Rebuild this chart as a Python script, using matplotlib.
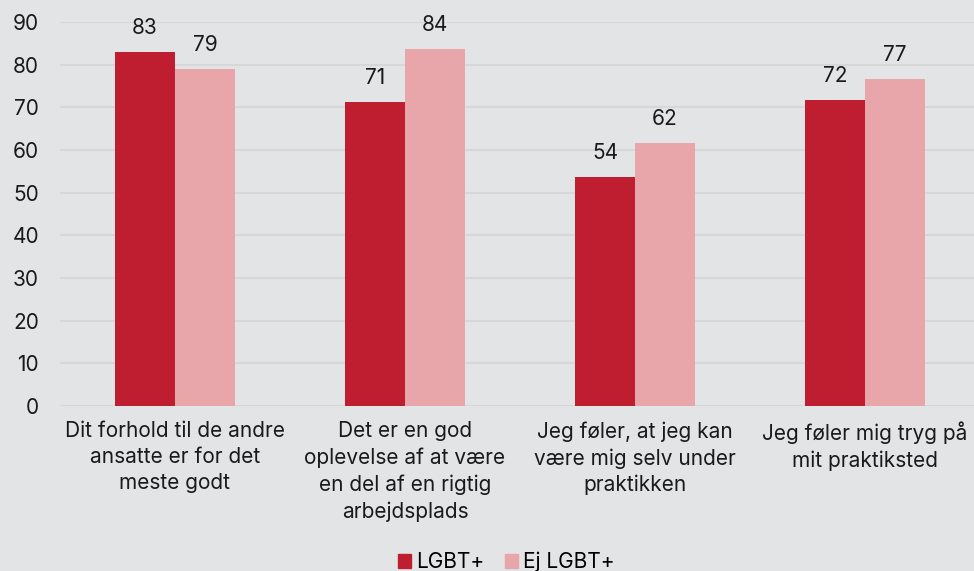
import matplotlib
matplotlib.use("Agg")
import matplotlib.pyplot as plt
import numpy as np
from matplotlib.patches import Patch

plt.rcParams["font.family"] = ["Inter", "DejaVu Sans"]

categories = [
    "Dit forhold til de andre\nansatte er for det\nmeste godt",
    "Det er en god\noplevelse af at være\nen del af en rigtig\narbejdsplads",
    "Jeg føler, at jeg kan\nvære mig selv under\npraktikken",
    "Jeg føler mig tryg på\nmit praktiksted",
]
lgbt = [82.9, 71.2, 53.6, 71.8]
ej_lgbt = [79.0, 83.6, 61.7, 76.6]
series_names = ["LGBT+", "Ej LGBT+"]
colors = ["#be1e2f", "#e8a6ab"]
bg = "#e3e4e6"
fs = 15

fig = plt.figure(figsize=(9.74, 5.71), dpi=100, facecolor=bg)
ax = fig.add_axes([60 / 974, 1 - 406 / 571, 914 / 974, 384 / 571])
ax.set_facecolor(bg)

x = np.arange(len(categories))
w = 0.26
b1 = ax.bar(x - w / 2, lgbt, w, color=colors[0], zorder=3)
b2 = ax.bar(x + w / 2, ej_lgbt, w, color=colors[1], zorder=3)

for bars, vals in ((b1, lgbt), (b2, ej_lgbt)):
    for r, v in zip(bars, vals):
        ax.annotate(f"{v:.0f}", (r.get_x() + r.get_width() / 2, v),
                    xytext=(0, 10), textcoords="offset points",
                    ha="center", va="bottom", fontsize=fs, color="#1a1a1a")

ax.set_ylim(0, 90)
ax.set_xlim(-0.5, 3.474)
ax.set_yticks(range(0, 91, 10))
ax.yaxis.grid(True, color="#d6d7d9", linewidth=1.5, zorder=0)
ax.set_axisbelow(True)
for s in ax.spines.values():
    s.set_visible(False)
ax.tick_params(axis="both", length=0, labelsize=fs, colors="#1a1a1a")
ax.tick_params(axis="y", pad=15)
ax.tick_params(axis="x", pad=11)
ax.set_xticks(x)
ax.set_xticklabels(categories, linespacing=1.38)

handles = [Patch(color=c, label=n) for c, n in zip(colors, series_names)]
fig.legend(handles=handles, loc="lower center", bbox_to_anchor=(0.52, -0.035), ncol=2,
           frameon=False, fontsize=fs, handlelength=0.6, handleheight=0.6,
           handletextpad=0.25, columnspacing=1.0)

fig.savefig("out.png", dpi=100, facecolor=bg)
